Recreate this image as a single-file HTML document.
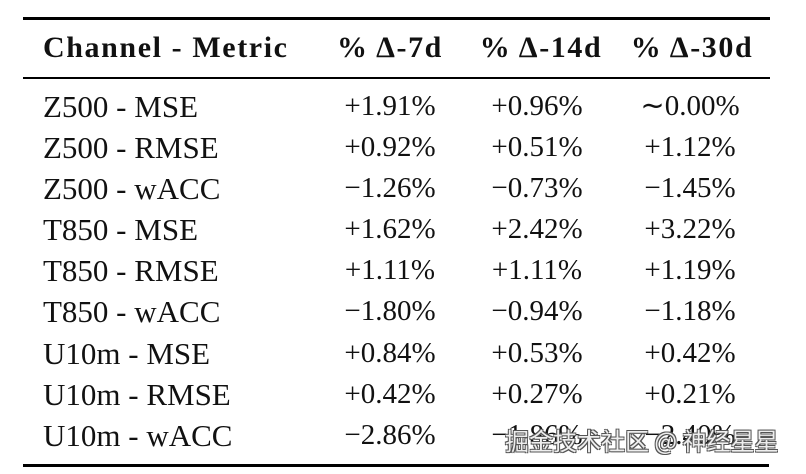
<!DOCTYPE html>
<html><head><meta charset="utf-8"><style>
html,body{margin:0;padding:0;background:#fff;}
body{width:806px;height:474px;position:relative;overflow:hidden;font-family:"Liberation Serif",serif;color:#111;}
.rule{position:absolute;left:23px;width:747px;background:#000;}
.t{position:absolute;font-size:31px;white-space:nowrap;line-height:1;}
.n{font-size:29px;}
.h{font-weight:bold;font-size:30px;letter-spacing:1.6px;}
.c{transform:translateX(-50%);}
.wm{position:absolute;left:505px;top:428px;font-family:"Noto Sans CJK SC",sans-serif;font-size:24px;color:#eee;text-shadow:1px 1px 0 #555,-1px -1px 0 #555,1px -1px 0 #555,-1px 1px 0 #555;white-space:nowrap;line-height:1;}
</style></head><body>
<div class="rule" style="top:17px;height:3px"></div>
<div class="rule" style="top:77px;height:2px"></div>
<div class="rule" style="top:464px;height:3px;width:746px"></div>
<div class="t h" style="left:43px;top:33px">Channel - Metric</div>
<div class="t h c" style="left:390px;top:33px">% Δ-7d</div>
<div class="t h c" style="left:541px;top:33px">% Δ-14d</div>
<div class="t h c" style="left:692px;top:33px">% Δ-30d</div>

<div class="t" style="left:43px;top:91px">Z500 - MSE</div><div class="t n c" style="left:390px;top:92px">+1.91%</div><div class="t n c" style="left:537px;top:92px">+0.96%</div><div class="t n c" style="left:690px;top:92px">∼0.00%</div>
<div class="t" style="left:43px;top:132px">Z500 - RMSE</div><div class="t n c" style="left:390px;top:133px">+0.92%</div><div class="t n c" style="left:537px;top:133px">+0.51%</div><div class="t n c" style="left:690px;top:133px">+1.12%</div>
<div class="t" style="left:43px;top:173px">Z500 - wACC</div><div class="t n c" style="left:390px;top:174px">−1.26%</div><div class="t n c" style="left:537px;top:174px">−0.73%</div><div class="t n c" style="left:690px;top:174px">−1.45%</div>
<div class="t" style="left:43px;top:214px">T850 - MSE</div><div class="t n c" style="left:390px;top:215px">+1.62%</div><div class="t n c" style="left:537px;top:215px">+2.42%</div><div class="t n c" style="left:690px;top:215px">+3.22%</div>
<div class="t" style="left:43px;top:255px">T850 - RMSE</div><div class="t n c" style="left:390px;top:256px">+1.11%</div><div class="t n c" style="left:537px;top:256px">+1.11%</div><div class="t n c" style="left:690px;top:256px">+1.19%</div>
<div class="t" style="left:43px;top:296px">T850 - wACC</div><div class="t n c" style="left:390px;top:297px">−1.80%</div><div class="t n c" style="left:537px;top:297px">−0.94%</div><div class="t n c" style="left:690px;top:297px">−1.18%</div>
<div class="t" style="left:43px;top:338px">U10m - MSE</div><div class="t n c" style="left:390px;top:339px">+0.84%</div><div class="t n c" style="left:537px;top:339px">+0.53%</div><div class="t n c" style="left:690px;top:339px">+0.42%</div>
<div class="t" style="left:43px;top:379px">U10m - RMSE</div><div class="t n c" style="left:390px;top:380px">+0.42%</div><div class="t n c" style="left:537px;top:380px">+0.27%</div><div class="t n c" style="left:690px;top:380px">+0.21%</div>
<div class="t" style="left:43px;top:420px">U10m - wACC</div><div class="t n c" style="left:390px;top:421px">−2.86%</div><div class="t n c" style="left:537px;top:421px">−1.86%</div><div class="t n c" style="left:690px;top:421px">−2.40%</div>
<div class="wm">掘金技术社区 @ 神经星星</div>
</body></html>
